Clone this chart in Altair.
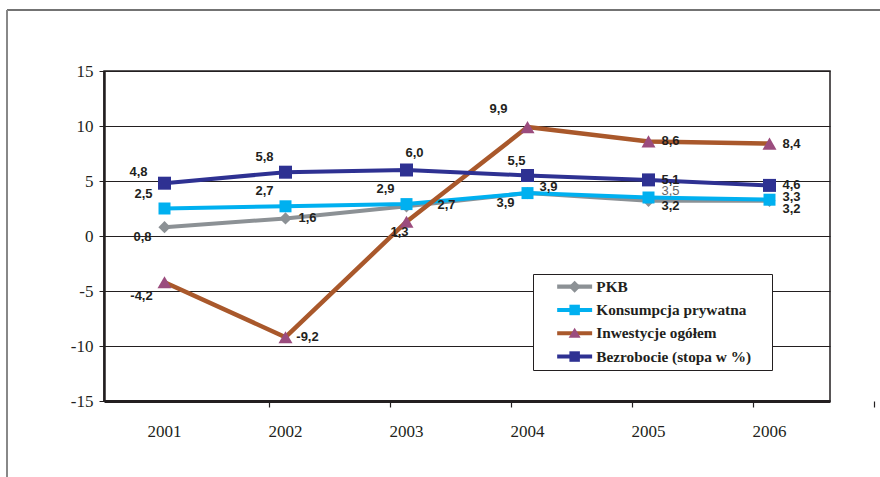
import altair as alt
import pandas as pd

# ---------------- data ----------------
years = ["2001", "2002", "2003", "2004", "2005", "2006"]
series_names = ["PKB", "Konsumpcja prywatna", "Inwestycje ogółem", "Bezrobocie (stopa w %)"]
pkb = [0.8, 1.6, 2.7, 3.9, 3.2, 3.2]
konsumpcja = [2.5, 2.7, 2.9, 3.9, 3.5, 3.3]
inwestycje = [-4.2, -9.2, 1.3, 9.9, 8.6, 8.4]
bezrobocie = [4.8, 5.8, 6.0, 5.5, 5.1, 4.6]
y_ticks = [-15, -10, -5, 0, 5, 10, 15]

# label placement category for each point
place_pkb = ["dl", "r", "r2", "dl", "rd", "rd2"]
place_kons = ["ul", "ul", "ul", "ru", "ru2", "r3"]
place_inw = ["dl2", "r", "d", "ul3", "r", "r"]
place_bez = ["ul2", "ul", "u", "u2", "r", "r"]

# ---------------- styles ----------------
INK = "#231F20"
line_colors = ["#8C9195", "#00B0F0", "#A9582B", "#2E3192"]
marker_colors = ["#8C9195", "#00B0F0", "#9B4C7E", "#2E3192"]
marker_shapes = ["diamond", "square", "triangle-up", "square"]
marker_sizes = [150, 144, 196, 169]
line_widths = [4, 4, 4.5, 4]
marker_keys = ["m_pkb", "m_kons", "m_inw", "m_bez"]
# legend symbol paths (unit = 7.5 px with symbolSize 225)
marker_paths = [
    "M0,-0.8L0.8,0L0,0.8L-0.8,0Z",
    "M-0.7,-0.7L0.7,-0.7L0.7,0.7L-0.7,0.7Z",
    "M0,-0.75L0.8,0.6L-0.8,0.6Z",
    "M-0.7,-0.7L0.7,-0.7L0.7,0.7L-0.7,0.7Z",
]
line_path = "M-2.33,-0.27L2.33,-0.27L2.33,0.27L-2.33,0.27Z"
# placement -> (dx, dy, weight, colour)
OFF = {
    "r": (22, 0, "bold", INK), "r2": (40, -1, "bold", INK), "ru": (21, -6, "bold", INK),
    "ru2": (22, -7, "normal", "#666666"),
    "rd": (22, 5, "bold", INK), "r3": (22, -3, "bold", INK), "rd2": (22, 8, "bold", INK),
    "ul": (-21, -15, "bold", INK), "ul2": (-26, -11, "bold", INK),
    "ul3": (-29, -18, "bold", INK),
    "u": (8, -17, "bold", INK), "u2": (-11, -15, "bold", INK),
    "dl": (-22, 10, "bold", INK), "dl2": (-23, 14, "bold", INK), "d": (-7, 10, "bold", INK),
}

rows = []
for name, vals, places in zip(series_names, [pkb, konsumpcja, inwestycje, bezrobocie],
                              [place_pkb, place_kons, place_inw, place_bez]):
    for yr, v, p in zip(years, vals, places):
        rows.append({"year": yr, "series": name, "value": v,
                     "label": f"{v:.1f}".replace(".", ","), "place": p})
df = pd.DataFrame(rows)

xscale = alt.Scale(type="band", domain=years, paddingInner=0, paddingOuter=0)
yscale = alt.Scale(domain=[-15, 15], nice=False, zero=False)
y_axis = alt.Axis(values=y_ticks, grid=True, gridColor=INK, gridWidth=1,
                  domainColor=INK, domainWidth=2.5, tickColor=INK, tickSize=5, tickWidth=1,
                  labelFont="Liberation Serif", labelFontSize=17, labelColor=INK,
                  labelPadding=6, title=None, labelExpr="toString(datum.value)")
x_main = alt.Axis(orient="bottom", ticks=False, tickSize=0, domain=True, domainWidth=3,
                  domainColor=INK, labelFont="Liberation Serif", labelFontSize=17,
                  labelColor=INK, labelPadding=22, grid=False, title=None, labelAngle=0)
x_ticks = alt.Axis(orient="bottom", position=165, bandPosition=0, ticks=True, tickSize=6,
                   tickColor=INK, tickWidth=1.2, labels=False, domain=False, grid=False,
                   title=None)

Y = alt.Y("value:Q", scale=yscale, axis=y_axis)

def X(axis=None):
    return alt.X("year:N", scale=xscale, axis=axis)

one = pd.DataFrame({"k": [0]})
frame_top = alt.Chart(one).mark_rule(color="#444", strokeWidth=1.5).encode(
    x=alt.value(-97), x2=alt.value(780), y=alt.value(-61))
frame_left = alt.Chart(one).mark_rule(color="#888", strokeWidth=2).encode(
    x=alt.value(-97), y=alt.value(-61), y2=alt.value(410))

layers = [frame_top, frame_left]
for i, name in enumerate(series_names):
    sub = alt.Chart(df).transform_filter(alt.datum.series == name)
    line = sub.mark_line(color=line_colors[i], strokeWidth=line_widths[i],
                         strokeJoin="round").encode(
        x=X(x_main if i == 0 else None), y=Y)
    pts = sub.mark_point(shape=marker_shapes[i], filled=True, size=marker_sizes[i],
                         color=marker_colors[i], opacity=1, strokeWidth=0).encode(
        x=X(x_ticks if i == 0 else None), y=Y)
    layers += [line, pts]

for key, (dx, dy, weight, col) in OFF.items():
    t = alt.Chart(df).transform_filter(alt.datum.place == key).mark_text(
        dx=dx, dy=dy, font="Liberation Sans", fontWeight=weight, fontSize=13,
        color=col, align="center", baseline="middle").encode(
        x=X(), y=Y, text="label:N")
    layers.append(t)

common_leg = dict(orient="none", legendX=429, legendY=203, padding=5,
                  symbolSize=225, symbolStrokeWidth=0, symbolOffset=29, labelOffset=14,
                  labelFont="Liberation Serif", labelFontWeight="bold", labelFontSize=15.3,
                  labelLimit=400, rowPadding=7.3, title=None)
legA = alt.Legend(symbolType=line_path, labelColor=INK, strokeColor=INK,
                  fillColor="white",
                  labelExpr="datum.label + '" + "\u00a0" * 4 + "\u200b" + "'", **common_leg)
legB = alt.Legend(labelExpr="''", **common_leg)

legend_a = alt.Chart(pd.DataFrame({"series": series_names})).transform_filter(
    "false").mark_point(filled=True, opacity=1).encode(
    color=alt.Color("series:N", scale=alt.Scale(domain=series_names, range=line_colors),
                    legend=legA))
legend_b = alt.Chart(pd.DataFrame({"mk": marker_keys})).transform_filter(
    "false").mark_point(filled=True, opacity=1).encode(
    fill=alt.Fill("mk:N", scale=alt.Scale(domain=marker_keys, range=marker_colors),
                  legend=legB),
    shape=alt.Shape("mk:N", scale=alt.Scale(domain=marker_keys, range=marker_paths),
                    legend=legB))
layers += [legend_a, legend_b]

chart = alt.layer(*layers).resolve_axis(x="independent").properties(
    width=726, height=330,
    autosize=alt.AutoSizeParams(type="none"),
    padding={"left": 104, "top": 71, "right": 50, "bottom": 76},
    background="white",
).configure_view(stroke=INK, strokeWidth=1.5)

chart.save("out.html", embed_options={"renderer": "svg", "actions": False})
